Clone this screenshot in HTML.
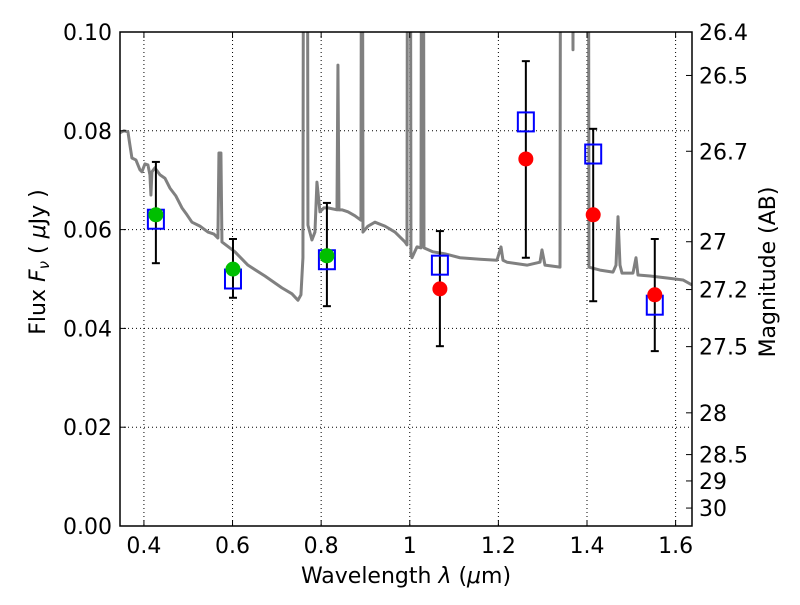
<!DOCTYPE html>
<html><head><meta charset="utf-8"><style>
body{margin:0;background:#fff;}
svg text{font-family:"DejaVu Sans","Liberation Sans",sans-serif;fill:#000;}
</style></head><body>
<svg id="chart" width="800" height="600" xmlns="http://www.w3.org/2000/svg"></svg>
<script>
// spectrum (wavelength um, flux uJy)
const specPx = [[120,133],[124,131],[128,132],[130,145],[132,158],[136,160],[140,170],[142,172],[145,164],[148,165],[150,175],[151,195],[152,172],[155,168],[160,175],[165,178],[170,188],[176,196],[182,208],[187,215],[192,222],[200,226],[208,232],[214,234],[218,238],[219,153],[221,153],[222,242],[235,252],[248,265],[265,276],[282,288],[292,294],[298,300],[301,295],[303,258],[304,0],[307,0],[308,225],[312,240],[315,232],[317,182],[320,212],[324,208],[328,208],[337,210],[338,65],[339,210],[342,210],[348,212],[355,216],[361,220],[362,0],[363,232],[368,226],[375,222],[385,226],[395,232],[405,242],[407,245],[408,0],[410,0],[411,255],[412,258],[417,247],[421,248],[422,0],[423,0],[424,248],[433,252],[445,254],[460,258],[480,259],[497,260],[501,247],[503,260],[507,262],[527,265],[540,262],[542,250],[545,265],[560,267],[561,0],[572,0],[573,50],[574,0],[588,0],[589,267],[600,270],[613,272],[616,265],[618,217],[620,265],[622,273],[633,273],[636,258],[638,275],[650,276],[667,278],[683,280],[692,285]];
const specWave = specPx.map(p => +(0.4 + (p[0]-144)/443).toFixed(4));
const specFlux = specPx.map(p => p[1] === 0 ? 0.2 : +((526-p[1])/4940).toFixed(4));
// photometry
const photWave = [0.427, 0.601, 0.813, 1.068, 1.262, 1.414, 1.553];
const obsFlux = [0.0630, 0.0520, 0.0547, 0.0480, 0.0743, 0.0630, 0.0468];
const obsGreen = [true, true, true, false, false, false, false];
const modelFlux = [0.0621, 0.0500, 0.0539, 0.0528, 0.0818, 0.0753, 0.0447];
const errHi = [0.0737, 0.0581, 0.0654, 0.0597, 0.0941, 0.0804, 0.0581];
const errLo = [0.0532, 0.0462, 0.0445, 0.0364, 0.0543, 0.0455, 0.0354];
const xTicks = [0.4, 0.6, 0.8, 1.0, 1.2, 1.4, 1.6];
const xTickLabels = ["0.4","0.6","0.8","1","1.2","1.4","1.6"];
const yTicks = [0, 0.02, 0.04, 0.06, 0.08, 0.10];
const yTickLabels = ["0.00","0.02","0.04","0.06","0.08","0.10"];
const magTicks = [26.4, 26.5, 26.7, 27, 27.2, 27.5, 28, 28.5, 29, 30];

const L=120, R=692, T=32, B=526;
const xMin=0.346, xMax=1.637, yMin=0, yMax=0.1;
const X = w => L + (w-xMin)/(xMax-xMin)*(R-L);
const Y = f => B - (f-yMin)/(yMax-yMin)*(B-T);
const NS="http://www.w3.org/2000/svg";
const svg=document.getElementById('chart');
function mk(tag, attrs, parent){const e=document.createElementNS(NS,tag);for(const k in attrs)e.setAttribute(k,attrs[k]);(parent||svg).appendChild(e);return e;}

const defs=mk('defs',{});const cp=mk('clipPath',{id:'clip'},defs);mk('rect',{x:L,y:T,width:R-L,height:B-T},cp);

const grid=mk('g',{});


xTicks.forEach(t=>{mk('line',{x1:X(t),x2:X(t),y1:T,y2:B,stroke:'#000','stroke-width':1,'stroke-dasharray':'1,3'},grid);});
yTicks.forEach(t=>{mk('line',{x1:L,x2:R,y1:Y(t),y2:Y(t),stroke:'#000','stroke-width':1,'stroke-dasharray':'1,3'},grid);});

const spec=mk('polyline',{points:specWave.map((w,i)=>X(w)+','+Y(specFlux[i])).join(' '),fill:'none',stroke:'#808080','stroke-width':3,'stroke-linejoin':'round','clip-path':'url(#clip)'});



photWave.forEach((w,i)=>{
  const g=mk('g',{});
  
  
  const cx=X(w);
  mk('line',{x1:cx,x2:cx,y1:Y(errHi[i]),y2:Y(errLo[i]),stroke:'#000','stroke-width':2},g);
  mk('line',{x1:cx-4,x2:cx+4,y1:Y(errHi[i]),y2:Y(errHi[i]),stroke:'#000','stroke-width':2},g);
  mk('line',{x1:cx-4,x2:cx+4,y1:Y(errLo[i]),y2:Y(errLo[i]),stroke:'#000','stroke-width':2},g);
  mk('rect',{x:cx-8,y:Y(modelFlux[i])-9.5,width:16,height:19,fill:'none',stroke:'#0000ff','stroke-width':2},g);
  mk('circle',{cx:cx,cy:Y(obsFlux[i]),r:7.5,fill:obsGreen[i]?'#00bf00':'#ff0000'},g);
});

const frame=mk('rect',{x:L,y:T,width:R-L,height:B-T,fill:'none',stroke:'#000','stroke-width':1.5});



xTicks.forEach((t,i)=>{
  mk('line',{x1:X(t),x2:X(t),y1:B,y2:B-6,stroke:'#000'});mk('line',{x1:X(t),x2:X(t),y1:T,y2:T+6,stroke:'#000'});
  const tx=mk('text',{x:X(t),y:B+27,'font-size':22,'text-anchor':'middle'});tx.textContent=xTickLabels[i];
  
  
});
yTicks.forEach((t,i)=>{
  mk('line',{x1:L,x2:L+6,y1:Y(t),y2:Y(t),stroke:'#000'});
  const tx=mk('text',{x:L-8,y:Y(t)+8,'font-size':22,'text-anchor':'end'});tx.textContent=yTickLabels[i];
  
  
});
magTicks.forEach(m=>{
  const f=Math.pow(10,(23.9-m)/2.5);const y=Y(f);
  mk('line',{x1:R,x2:R-6,y1:y,y2:y,stroke:'#000'});
  const tx=mk('text',{x:R+7,y:y+8,'font-size':22});tx.textContent=String(m);
  
  
});

const xl=mk('text',{x:406,y:583,'font-size':22,'text-anchor':'middle'});
xl.innerHTML='Wavelength  <tspan font-style="italic">λ</tspan> (<tspan font-style="italic">μ</tspan>m)';


const yl=mk('text',{x:0,y:0,'font-size':22,'text-anchor':'middle',transform:'translate(45,262) rotate(-90)'});
yl.innerHTML='Flux  <tspan font-style="italic">F</tspan><tspan font-style="italic" font-size="15" dy="4">ν</tspan><tspan dy="-4">  (  </tspan><tspan font-style="italic">μ</tspan>Jy )';


const ml=mk('text',{x:0,y:0,'font-size':22,'text-anchor':'middle',transform:'translate(775,272) rotate(-90)'});
ml.textContent='Magnitude (AB)';


</script>
</body></html>
